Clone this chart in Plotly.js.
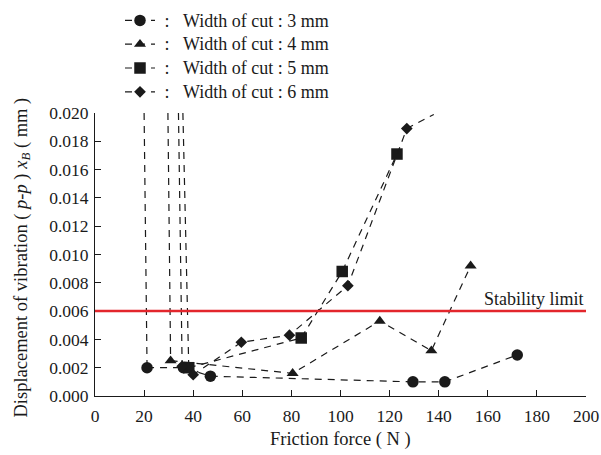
<!DOCTYPE html>
<html>
<head>
<meta charset="utf-8">
<script src="https://cdn.plot.ly/plotly-3.0.1.min.js"></script>
<style>html,body{margin:0;padding:0;background:#fff;}#chart{width:601px;height:455px;}</style>
</head>
<body>
<div id="chart"></div>
<script>
// Friction force (N) and peak-to-peak displacement (mm) for each width of cut
const names = ['Width of cut : 3 mm', 'Width of cut : 4 mm', 'Width of cut : 5 mm', 'Width of cut : 6 mm'];
const x3 = [21.2, 36, 47, 129.5, 142.5, 172];
const y3 = [0.0020, 0.0020, 0.0014, 0.0010, 0.0010, 0.0029];
const x4 = [30.8, 80.5, 116, 137, 153];
const y4 = [0.0025, 0.0016, 0.0053, 0.0032, 0.0092];
const x5 = [38.2, 84, 100.7, 123];
const y5 = [0.0020, 0.0041, 0.0088, 0.0171];
const x6 = [35.5, 40, 59.6, 79.2, 103, 127];
const y6 = [0.0021, 0.0015, 0.0038, 0.0043, 0.0078, 0.0189];
// friction force where each curve leaves the top of the chart (unstable region)
const topX = [20.0, 29.7, 35.8, 34.0];
const yTop = 0.020;
// continuation of the 6 mm curve beyond the last marker
const tail6X = [138];
const tail6Y = [0.0199];
const stabilityLimit = 0.006;
const xTicks = [0, 20, 40, 60, 80, 100, 120, 140, 160, 180, 200];
const yTicks = [0.000, 0.002, 0.004, 0.006, 0.008, 0.010, 0.012, 0.014, 0.016, 0.018, 0.020];
const xTitle = 'Friction force ( N )';
const yTitle = 'Displacement of vibration ( <i>p-p</i> ) <i>x</i><sub><i>B</i></sub> ( mm )';

const FONT = 'Times New Roman, Liberation Serif, DejaVu Serif, serif';
const INK = '#1a1a1a';
const DASH = '7px,6px';
const symbols = ['circle', 'triangle-up', 'square', 'diamond'];
const sizes = [11.5, 10.5, 11.5, 9];
const xs = [x3, x4, x5, x6];
const ys = [y3, y4, y5, y6];

const traces = [];
for (let i = 0; i < 4; i++) {
  traces.push({
    x: [topX[i], xs[i][0]], y: [yTop, ys[i][0]],
    mode: 'lines', showlegend: false, hoverinfo: 'skip',
    line: {color: INK, width: 1.2, dash: DASH}
  });
}
traces.push({
  x: [x6[x6.length - 1]].concat(tail6X), y: [y6[y6.length - 1]].concat(tail6Y),
  mode: 'lines', showlegend: false, hoverinfo: 'skip',
  line: {color: INK, width: 1.2, dash: DASH}
});
for (let i = 0; i < 4; i++) {
  traces.push({
    x: xs[i], y: ys[i],
    name: '<span style="font-size:18px">\u00a0:\u00a0\u00a0\u00a0' + names[i] + '</span>',
    mode: 'lines+markers', legendgroup: 'g' + i,
    line: {color: INK, width: 1.2, dash: DASH},
    marker: {symbol: symbols[i], size: sizes[i], color: INK}
  });
}

const layout = {
  width: 601, height: 455,
  margin: {l: 95, r: 15, t: 113, b: 59, autoexpand: false},
  paper_bgcolor: '#fff', plot_bgcolor: '#fff',
  font: {family: FONT, size: 16, color: INK},
  showlegend: true,
  legend: {
    xref: 'container', yref: 'container',
    x: 120 / 601, y: 1 - 3.5 / 455, xanchor: 'left', yanchor: 'top',
    bgcolor: 'rgba(0,0,0,0)', borderwidth: 0,
    font: {family: FONT, size: 16, color: INK},
    tracegroupgap: 0, itemwidth: 30
  },
  xaxis: {
    range: [0, 200], tickvals: xTicks, ticktext: xTicks.map(String), automargin: false,
    ticks: 'inside', ticklen: 6, tickwidth: 1, tickcolor: INK, ticklabelstandoff: 4,
    showline: true, linecolor: INK, linewidth: 1,
    showgrid: false, zeroline: false,
    tickfont: {family: FONT, size: 17.5, color: INK}
  },
  yaxis: {
    range: [0, 0.020], tickvals: yTicks, ticktext: yTicks.map(v => v.toFixed(3)), automargin: false,
    ticks: 'inside', ticklen: 6, tickwidth: 1, tickcolor: INK, ticklabelstandoff: 2,
    showline: true, linecolor: INK, linewidth: 1,
    showgrid: false, zeroline: false,
    tickfont: {family: FONT, size: 17.5, color: INK}
  },
  shapes: [{
    type: 'line', xref: 'paper', yref: 'y', x0: 0, x1: 1, y0: stabilityLimit, y1: stabilityLimit,
    line: {color: '#e3262c', width: 2.5}
  }],
  annotations: [{
    text: 'Stability limit', xref: 'paper', yref: 'y', x: 1, y: stabilityLimit,
    xanchor: 'right', yanchor: 'bottom', yshift: 0, showarrow: false,
    font: {family: FONT, size: 18, color: INK}
  }, {
    text: xTitle, xref: 'paper', yref: 'paper', x: 0.5, y: 0, yshift: -43,
    xanchor: 'center', yanchor: 'middle', showarrow: false,
    font: {family: FONT, size: 18.5, color: INK}
  }, {
    text: yTitle, xref: 'paper', yref: 'paper', x: 0, y: 0.5, xshift: -73, yshift: -3,
    xanchor: 'center', yanchor: 'middle', textangle: -90, showarrow: false,
    font: {family: FONT, size: 18.5, color: INK}
  }]
};

Plotly.newPlot('chart', traces, layout, {displayModeBar: false, staticPlot: true});
</script>
</body>
</html>
